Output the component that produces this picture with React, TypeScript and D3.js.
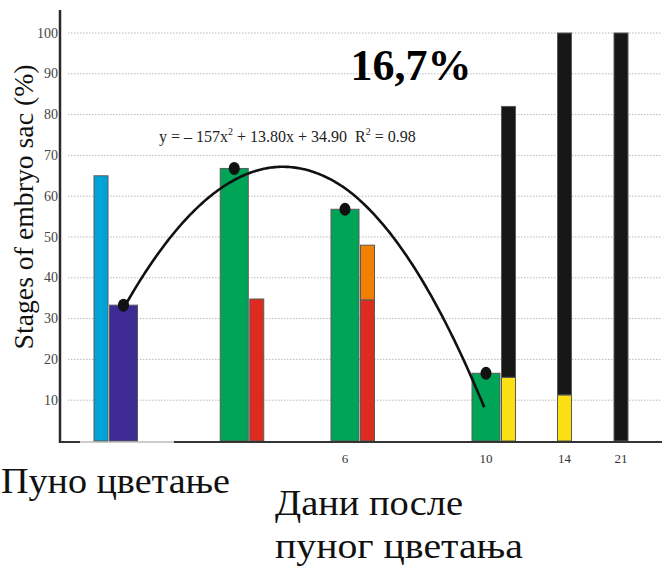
import React from 'react'
import * as d3 from 'd3'

// days after full bloom (0 = full bloom)
const days = [0, 3, 6, 10, 14, 21]
const dayTickLabels = ['', '', '6', '10', '14', '21']

// wide bar of each group (purple at full bloom, green afterwards)
const wideValues = [33.3, 66.8, 56.8, 16.6, null, null]
const wideStages = ['purple', 'green', 'green', 'green', null, null]

// narrow stacked bar of each group
const cyanValues = [65, 0, 0, 0, 0, 0]
const redValues = [0, 34.8, 34.6, 0, 0, 0]
const orangeValues = [0, 0, 13.4, 0, 0, 0]
const yellowValues = [0, 0, 0, 15.6, 11.3, 0]
const blackValues = [0, 0, 0, 66.4, 88.7, 100]

// trend curve as drawn (quadratic in days)
const curveCoefs = [32.5, 16.07, -1.86]
const curveDays = [0, 9.95]

const yTicks = [10, 20, 30, 40, 50, 60, 70, 80, 90, 100]

const colors: Record<string, string> = {
  cyan: '#00a3d7',
  purple: '#3d2b93',
  green: '#00a457',
  red: '#de2b1f',
  orange: '#f28000',
  yellow: '#f9df14',
  black: '#161816',
}

const width = 662
const height = 567
const left = 60
const base = 442

export default function App() {
  const y = d3.scaleLinear().domain([0, 100]).range([441, 33])
  // broken day axis
  const x = d3.scaleLinear().domain([0, 6, 10, 14, 21]).range([123.5, 345, 486, 564.5, 621])

  const ww = 28
  const nw = 14
  const gap = 1.5

  const table = days.map((d, i) => ({
    day: d,
    cyan: cyanValues[i],
    red: redValues[i],
    orange: orangeValues[i],
    yellow: yellowValues[i],
    black: blackValues[i],
  }))
  const keys = ['cyan', 'red', 'orange', 'yellow', 'black']
  const stacked = d3.stack<any>().keys(keys)(table)

  const narrowX = (i: number) => {
    const c = x(days[i])
    if (wideValues[i] == null) return c - nw / 2
    if (i === 0) return c - ww / 2 - gap - nw
    return c + ww / 2 + gap
  }

  const curvePts = d3.range(curveDays[0], curveDays[1] + 0.001, 0.05).map(d => [
    x(d),
    y(curveCoefs[0] + curveCoefs[1] * d + curveCoefs[2] * d * d),
  ] as [number, number])
  const line = d3.line()

  const serif = 'Liberation Serif'

  return (
    <svg width={width} height={height} style={{ position: 'absolute', left: 0, top: 0, background: '#fff' }}>
      {/* gridlines */}
      {yTicks.map(t => (
        <line key={t} x1={68} x2={width} y1={y(t)} y2={y(t)} stroke="#b8b8b8" strokeWidth={1} strokeDasharray="1.5,1.5" />
      ))}

      {/* y tick labels */}
      {yTicks.map(t => (
        <text key={t} x={58} y={y(t)} textAnchor="end" dominantBaseline="central" fontFamily={serif} fontSize={14} fill="#444">
          {t}
        </text>
      ))}

      {/* formula */}
      <text x={159} y={142} fontFamily={serif} fontSize={16} fill="#222" style={{ whiteSpace: 'pre' }}>
        <tspan>y = – 157x</tspan>
        <tspan fontSize={10} dy={-7}>2</tspan>
        <tspan dy={7}> + 13.80x + 34.90  R</tspan>
        <tspan fontSize={10} dy={-7}>2</tspan>
        <tspan dy={7}> = 0.98</tspan>
      </text>

      <text x={411} y={80} textAnchor="middle" fontFamily={serif} fontWeight="bold" fontSize={44} fill="#000">
        16,7%
      </text>

      {/* wide bars */}
      {wideValues.map((v, i) =>
        v == null ? null : (
          <rect key={i} x={x(days[i]) - ww / 2} y={y(v)} width={ww} height={y(0) - y(v)}
            fill={colors[wideStages[i] as string]} stroke="#5a5a5a" strokeWidth={1} />
        )
      )}

      {/* narrow stacked bars */}
      {stacked.map(s =>
        s.map((seg, i) =>
          seg[1] - seg[0] <= 0 ? null : (
            <rect key={s.key + i} x={narrowX(i)} y={y(seg[1])} width={nw} height={y(seg[0]) - y(seg[1])}
              fill={colors[s.key]} stroke="#5a5a5a" strokeWidth={1} />
          )
        )
      )}

      {/* trend curve */}
      <path d={line(curvePts) || ''} fill="none" stroke="#111" strokeWidth={2.6} />

      {/* points */}
      {wideValues.map((v, i) =>
        v == null ? null : <ellipse key={i} cx={x(days[i])} cy={y(v)} rx={5.5} ry={6.5} fill="#111" />
      )}

      {/* axes */}
      <line x1={left} x2={left} y1={10} y2={base + 1} stroke="#2a2a2a" strokeWidth={2.5} />
      <line x1={left} x2={80} y1={base} y2={base} stroke="#333" strokeWidth={2} />
      <line x1={80} x2={174} y1={base} y2={base} stroke="#999" strokeWidth={1} />
      <line x1={174} x2={width} y1={base} y2={base} stroke="#333" strokeWidth={2} />

      {/* x tick labels */}
      {days.map((d, i) => (
        <text key={d} x={x(d)} y={463} textAnchor="middle" fontFamily={serif} fontSize={13} fill="#333">
          {dayTickLabels[i]}
        </text>
      ))}

      {/* y axis title */}
      <text transform="translate(33,207) rotate(-90)" textAnchor="middle" fontFamily={serif} fontSize={28} fill="#111"
        textLength={285} lengthAdjust="spacingAndGlyphs">
        Stages of embryo sac (%)
      </text>

      {/* bottom captions */}
      <text x={1} y={493} fontFamily={serif} fontSize={35} fill="#111" textLength={229} lengthAdjust="spacingAndGlyphs">
        Пуно цветање
      </text>
      <text x={275} y={515} fontFamily={serif} fontSize={35} fill="#111" textLength={188} lengthAdjust="spacingAndGlyphs">
        Дани после
      </text>
      <text x={275} y={558} fontFamily={serif} fontSize={35} fill="#111" textLength={248} lengthAdjust="spacingAndGlyphs">
        пуног цветања
      </text>
    </svg>
  )
}
